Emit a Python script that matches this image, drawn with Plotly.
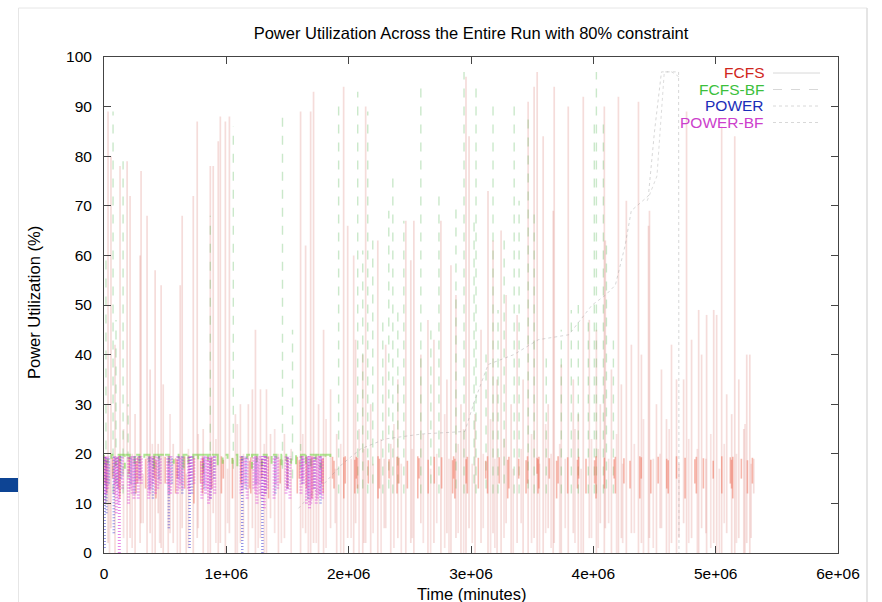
import plotly.graph_objects as go

# ---------------- data (time in thousands of minutes, utilization in %) ----------------
TITLE = "Power Utilization Across the Entire Run with 80% constraint"
X_TITLE = "Time (minutes)"
Y_TITLE = "Power Utilization (%)"
series_names = ["FCFS", "FCFS-BF", "POWER", "POWER-BF"]
x_tick_vals = [0, 1e6, 2e6, 3e6, 4e6, 5e6, 6e6]
x_tick_text = ["0", "1e+06", "2e+06", "3e+06", "4e+06", "5e+06", "6e+06"]
y_tick_vals = [0, 10, 20, 30, 40, 50, 60, 70, 80, 90, 100]

# FCFS spikes: time, peak, trough
fcfs_t = [33, 57, 90, 131, 189, 213, 254, 295, 303, 352, 377, 418, 443, 467, 484, 525, 566, 623, 639, 672,
          730, 762, 811, 869, 893, 934, 951, 992, 1025, 1074, 1115, 1180, 1213, 1238, 1279, 1328, 1361, 1426, 1475, 1607,
          1648, 1689, 1713, 1754, 1795, 1852, 1902, 1959, 1992, 2041, 2057, 2115, 2139, 2180, 2238, 2303, 2344, 2402, 2467, 2508,
          2533, 2590, 2648, 2697, 2754, 2803, 2836, 2877, 2918, 2959, 2984, 3033, 3082, 3139, 3180, 3213, 3246, 3287, 3328, 3377,
          3426, 3467, 3516, 3541, 3590, 3631, 3672, 3680, 3738, 3795, 3836, 3877, 3918, 3967, 4025, 4057, 4090, 4098, 4148, 4205,
          4229, 4270, 4311, 4369, 4393, 4451, 4459, 4516, 4557, 4598, 4639, 4680, 4738, 4762, 4803, 4861, 4885, 4926, 4984, 5008,
          5049, 5090, 5131, 5156, 5189, 5230, 5254, 5279, 5311]
fcfs_peak = [89, 80, 42, 78, 79, 72, 28, 60, 77, 68, 37, 57, 22, 54, 34, 18.5, 22, 54, 68, 16,
             72, 87, 25, 78, 78, 83, 88, 87, 88, 28, 30, 30, 33, 45, 33, 33, 24, 20, 24, 89,
             62, 89, 93, 30, 45, 33, 24, 94, 66, 60, 43, 40, 90, 30, 63, 42, 22, 35, 67, 59,
             67, 40, 47, 43, 67, 35, 58, 52, 30, 96, 84, 28, 45, 73, 63, 35, 65, 52, 30, 48,
             35, 91, 94, 97, 84, 30, 69, 94, 38, 90, 35, 28, 92, 47, 45, 30, 90, 63, 37, 92,
             34, 71, 42, 91, 40, 66, 69, 30, 37, 27, 42, 35, 35, 89, 43, 49, 40, 48, 49, 48,
             86, 32, 28, 84, 35, 25, 40, 40, 19]
fcfs_low = [2, 5, 0, 12, 0, 3, 0, 2, 6, 0, 4, 0, 8, 1, 0, 0, 2, 0, 5, 0,
            0, 3, 0, 0, 8, 0, 2, 0, 4, 0, 2, 0, 5, 0, 3, 0, 7, 0, 3, 0,
            4, 0, 2, 0, 0, 5, 0, 0, 3, 0, 6, 0, 2, 0, 0, 5, 0, 3, 0, 2,
            0, 6, 0, 2, 0, 4, 0, 3, 0, 0, 5, 0, 2, 0, 4, 0, 0, 6, 0, 2,
            0, 0, 3, 0, 0, 5, 0, 2, 0, 0, 4, 0, 0, 3, 0, 6, 0, 5, 0, 0,
            3, 0, 4, 0, 2, 0, 3, 0, 5, 0, 2, 0, 6, 0, 3, 0, 5, 0, 2, 0,
            0, 4, 0, 0, 3, 0, 2, 0, 12]

# FCFS short dips from the working level towards zero: time, bottom, top
fcfs_dip_t = [45, 160, 230, 320, 395, 455, 540, 600, 690, 770,
              850, 915, 1010, 1090, 1140, 1260, 1310, 1395, 1450, 1530,
              1625, 1670, 1735, 1815, 1890, 1935, 2020, 2085, 2125, 2200,
              2265, 2290, 2370, 2430, 2520, 2610, 2670, 2720, 2785, 2820,
              2895, 2940, 3010, 3100, 3160, 3195, 3270, 3345, 3410, 3495,
              3560, 3610, 3655, 3725, 3770, 3850, 3900, 3985, 4040, 4125,
              4190, 4240, 4335, 4410, 4490, 4545, 4620, 4700, 4780, 4850,
              4920, 4960, 5030, 5070, 5170, 5240, 5290]
fcfs_dip_low = [0, 3, 1, 6, 0, 2, 4, 0, 1, 5,
                0, 2, 6, 0, 3, 1, 0, 4, 2, 0,
                5, 0, 2, 1, 6, 0, 3, 0, 2, 4,
                0, 5, 1, 0, 3, 2, 0, 6, 1, 0,
                4, 0, 2, 5, 0, 1, 3, 0, 6, 2,
                0, 4, 1, 0, 5, 2, 0, 3, 1, 6,
                0, 2, 4, 0, 1, 5, 0, 3, 2, 0,
                4, 1, 0, 6, 2, 0, 3]
fcfs_dip_top = [18, 25, 20, 16, 22, 19, 28, 17, 21, 24,
                19, 23, 17, 26, 20, 18, 22, 25, 19, 21,
                24, 18, 20, 27, 17, 22, 19, 25, 21, 18,
                23, 19, 26, 18, 21, 24, 17, 20, 28, 19,
                22, 25, 18, 20, 27, 19, 23, 17, 21, 24,
                18, 26, 20, 22, 19, 25, 17, 23, 21, 19,
                24, 18, 22, 27, 19, 20, 25, 18, 23, 21,
                19, 24, 17, 22, 20, 26, 18]

# FCFS dense band just below the cap: time, trough, top
fcfs_band_t = [8, 22, 70, 118, 130, 205, 262, 275, 340, 410,
               425, 500, 585, 598, 660, 735, 790, 805, 812, 880,
               960, 975, 1050, 1120, 1190, 1200, 1290, 1345, 1440, 1500,
               1580, 1596, 1655, 1700, 1780, 1792, 1868, 1880, 1960, 1972,
               2050, 2062, 2072, 2160, 2240, 2252, 2330, 2395, 2410, 2480,
               2565, 2575, 2650, 2700, 2760, 2850, 2858, 2868, 2960, 2970,
               3060, 3120, 3135, 3230, 3300, 3310, 3390, 3450, 3462, 3540,
               3548, 3555, 3640, 3700, 3712, 3790, 3870, 3880, 3940, 4010,
               4022, 4090, 4170, 4180, 4250, 4300, 4380, 4392, 4470, 4530,
               4600, 4612, 4680, 4750, 4830, 4842, 4900, 4980, 5050, 5120,
               5130, 5140, 5210, 5260, 5300]
fcfs_band_low = [14, 12, 15, 13, 11, 16, 12, 14, 13, 15,
                 11, 14, 12, 15, 13, 10, 14, 12, 16, 13,
                 12, 15, 11, 14, 13, 12, 15, 11, 14, 13,
                 12, 15, 13, 11, 14, 12, 15, 13, 11, 14,
                 12, 15, 13, 14, 11, 13, 15, 12, 14, 13,
                 11, 15, 12, 14, 13, 12, 15, 11, 14, 12,
                 13, 15, 12, 14, 11, 13, 15, 12, 14, 16,
                 12, 13, 15, 11, 14, 12, 13, 15, 12, 14,
                 11, 13, 15, 12, 14, 13, 11, 15, 12, 14,
                 13, 12, 15, 11, 14, 12, 13, 15, 12, 14,
                 13, 11, 15, 12, 14]
fcfs_band_top = [19.4, 18.6, 19.2, 19.5, 18.9, 19.3, 18.5, 19.4, 19.0, 19.5,
                 18.7, 19.4, 19.1, 18.8, 19.5, 19.2, 18.6, 19.4, 19.0, 19.3,
                 19.5, 18.8, 19.2, 19.4, 18.6, 19.3, 19.0, 19.5, 18.9, 19.2,
                 19.4, 18.7, 19.3, 19.5, 18.9, 19.1, 19.4, 18.6, 19.3, 19.5,
                 18.8, 19.4, 19.2, 18.7, 19.5, 19.0, 18.9, 19.4, 19.2, 18.6,
                 19.5, 19.1, 18.8, 19.4, 19.3, 18.7, 19.5, 19.0, 18.9, 19.4,
                 19.2, 18.6, 19.5, 19.3, 18.8, 19.4, 19.0, 18.7, 19.5, 19.2,
                 18.9, 19.4, 19.1, 18.6, 19.5, 19.3, 18.8, 19.4, 19.0, 18.7,
                 19.5, 19.2, 18.9, 19.4, 19.1, 18.6, 19.5, 19.3, 18.8, 19.4,
                 19.0, 18.7, 19.5, 19.2, 18.9, 19.4, 19.1, 18.6, 19.5, 19.3,
                 18.8, 19.4, 19.0, 18.7, 19.2]

# FCFS-BF spikes: time, peak, trough
fcfsbf_t = [16, 74, 98, 156, 197, 869, 1057, 1459, 1541, 1607, 1918, 2074, 2115, 2156, 2197, 2279, 2328, 2361, 2402, 2451,
            2590, 2672, 2738, 2877, 2943, 3025, 3041, 3123, 3180, 3221, 3271, 3353, 3393, 3467, 3516, 3615, 3738, 3820, 3877, 3959,
            4008, 4025, 4082, 4107, 4164]
fcfsbf_peak = [60, 89, 47, 79, 30, 68, 86, 88, 45, 22, 90, 93, 61, 89, 63, 47, 69, 76, 49, 67,
               95, 45, 72, 70, 97, 68, 94, 40, 91, 49, 64, 91, 71, 88, 69, 40, 45, 49, 50, 48,
               88, 97, 87, 63, 44]
fcfsbf_low = [10, 12, 14, 12, 15, 17, 17, 17, 15, 17, 12, 12, 13, 12, 14, 12, 13, 12, 14, 12,
              12, 14, 12, 13, 12, 14, 12, 13, 12, 12, 14, 12, 12, 13, 12, 12, 12, 12, 12, 12,
              12, 12, 12, 13, 12]

# FCFS-BF band at the cap: time, dip
fcfsbf_band_t = [0, 30, 60, 95, 130, 170, 210, 250, 290, 330, 370, 410, 450, 490, 530, 570, 610, 650, 690, 730,
                 770, 810, 850, 890, 930, 970, 1010, 1050, 1090, 1130, 1170, 1210, 1250, 1290, 1330, 1370, 1410, 1450, 1490, 1530,
                 1570, 1610, 1650, 1690, 1730, 1770, 1810, 1850]
fcfsbf_band_low = [17, 18, 19, 17.5, 18, 17, 19, 18, 17.5, 19, 18, 17, 18.5, 19, 17.5, 18, 19, 17, 18, 19,
                   18.5, 17, 18, 19, 17.5, 18, 19, 18, 17, 18.5, 19, 17, 18, 17.5, 19, 18, 19, 17, 18.5, 18,
                   17, 19, 18, 17.5, 18, 17, 18.5, 19]
fcfsbf_band_top = 19.8

# POWER: time, trough (strokes from the cap down)
power_t = [5, 20, 40, 80, 110, 140, 220, 250, 290, 370, 400, 450, 530, 555, 610, 640, 700, 720, 820, 870,
           900, 1130, 1160, 1240, 1295, 1320, 1400, 1500, 1620, 1670, 1720, 1770]
power_low = [1, 8, 14, 4, 13, 15, 14, 12, 15, 13, 11, 15, 5, 14, 15, 12, 1, 12, 13, 11,
             15, 0, 13, 14, 0, 12, 12, 13, 14, 11, 13, 10]
power_top = 19.5

# POWER-BF: time, trough
powerbf_t = [10, 30, 85, 100, 125, 150, 200, 230, 260, 280, 305, 365, 385, 420, 460, 520, 545, 600, 625, 645,
             690, 710, 735, 800, 830, 855, 880, 905, 1120, 1150, 1170, 1225, 1250, 1275, 1310, 1335, 1390, 1420, 1488, 1520,
             1610, 1630, 1655, 1680, 1700, 1735, 1760, 1785,
             15, 92, 115, 215, 245, 295, 375, 400, 440, 530, 615, 700, 815, 845, 870, 1135, 1240, 1260, 1290, 1320,
             1405, 1500, 1620, 1665, 1690, 1715, 1745, 1770]
powerbf_low = [10, 13, 12, 8, 0, 13, 10, 12, 14, 11, 14, 11, 13, 12, 14, 14, 12, 12, 14, 13,
               13, 15, 14, 11, 12, 10, 13, 12, 12, 14, 11, 13, 10, 12, 9, 13, 11, 13, 12, 11,
               12, 14, 10, 9, 11, 10, 12, 11,
               12, 14, 10, 13, 11, 15, 12, 14, 13, 12, 13, 12, 14, 13, 11, 13, 12, 14, 11, 12,
               14, 13, 15, 12, 10, 13, 11, 12]
powerbf_top = 19.5

# slowly rising tail of the power-aware run
tail_t = [1590, 1700, 1800, 1950, 2100, 2300, 2600, 2950, 3020, 3140, 3350, 3550, 3800, 3990, 4100, 4180, 4260, 4310, 4450, 4500,
          4557, 4697, 4700]
tail_v = [9, 12, 14, 18, 21, 23, 24, 24.5, 30, 38, 40, 43, 44, 50, 52, 54, 62, 69, 72, 85,
          97, 97, 0]
tail2_t = [4440, 4520, 4580, 4640, 4700]
tail2_v = [71, 76, 97, 97, 96]

# ---------------- build figure ----------------
K = 1000.0


def strokes(t, lo, hi):
    xs, ys = [], []
    for ti, a, b in zip(t, lo, hi):
        xs += [ti * K, ti * K, None]
        ys += [a, b, None]
    return xs, ys


def capped_line(t, lo, top):
    xs, ys = [], []
    for ti, a in zip(t, lo):
        xs += [ti * K, ti * K, ti * K]
        ys += [top, a, top]
    return xs, ys


fig = go.Figure()

x, y = strokes(fcfs_t, fcfs_low, fcfs_peak)
fig.add_trace(go.Scatter(x=x, y=y, mode="lines", name="FCFS", showlegend=False,
                         line=dict(color="rgba(205,80,70,0.2)", width=1.7)))
x, y = strokes(fcfs_dip_t, fcfs_dip_low, fcfs_dip_top)
fig.add_trace(go.Scatter(x=x, y=y, mode="lines", showlegend=False,
                         line=dict(color="rgba(205,80,70,0.17)", width=1.7)))
x, y = strokes(fcfsbf_t, fcfsbf_low, fcfsbf_peak)
fig.add_trace(go.Scatter(x=x, y=y, mode="lines", name="FCFS-BF", showlegend=False,
                         line=dict(color="rgba(80,180,80,0.3)", width=1.4, dash="dash")))
x, y = strokes(fcfs_band_t, fcfs_band_low, fcfs_band_top)
fig.add_trace(go.Scatter(x=x, y=y, mode="lines", showlegend=False,
                         line=dict(color="rgba(235,85,60,0.42)", width=1.6)))
x, y = capped_line(fcfsbf_band_t, fcfsbf_band_low, fcfsbf_band_top)
fig.add_trace(go.Scatter(x=x, y=y, mode="lines", showlegend=False,
                         line=dict(color="rgba(110,210,60,0.55)", width=2, dash="dash")))
x, y = strokes(power_t, power_low, [power_top] * len(power_t))
fig.add_trace(go.Scatter(x=x, y=y, mode="lines", name="POWER", showlegend=False,
                         line=dict(color="rgba(60,60,210,0.55)", width=2.5, dash="1px,2px")))
x, y = strokes(powerbf_t, powerbf_low, [powerbf_top] * len(powerbf_t))
fig.add_trace(go.Scatter(x=x, y=y, mode="lines", name="POWER-BF", showlegend=False,
                         line=dict(color="rgba(215,50,215,0.6)", width=3, dash="1px,2px")))
fig.add_trace(go.Scatter(x=[v * K for v in tail_t], y=tail_v, mode="lines", showlegend=False,
                         line=dict(color="rgba(140,140,140,0.35)", width=1, dash="dot")))
fig.add_trace(go.Scatter(x=[v * K for v in tail2_t], y=tail2_v, mode="lines", showlegend=False,
                         line=dict(color="rgba(140,140,140,0.3)", width=1, dash="dot")))

font_family = "Liberation Sans, Arial, sans-serif"
axis_common = dict(showline=True, linecolor="#444", linewidth=1, mirror="ticks", ticks="inside",
                   ticklen=7, tickcolor="#444", showgrid=False, zeroline=False,
                   tickfont=dict(family=font_family, size=15.5, color="#000"))
fig.update_layout(
    width=882, height=602,
    margin=dict(l=104, r=44, t=57, b=49),
    paper_bgcolor="white", plot_bgcolor="white",
    title=dict(text=TITLE, x=0.5, xref="paper", y=1 - 33 / 602, yref="container", yanchor="middle",
               font=dict(family=font_family, size=16.5, color="#000")),
    xaxis=dict(range=[0, 6e6], tickvals=x_tick_vals, ticktext=x_tick_text, ticklabelstandoff=6, **axis_common),
    yaxis=dict(range=[0, 100], tickvals=y_tick_vals, ticklabelstandoff=8, **axis_common),
)

# axis titles
fig.add_annotation(text=X_TITLE, xref="paper", yref="paper", x=0.5, y=(553 - 594) / 496,
                   showarrow=False, font=dict(family=font_family, size=16.5, color="#000"), yanchor="middle")
fig.add_annotation(text=Y_TITLE, xref="paper", yref="paper", x=(34 - 104) / 734, y=(553 - 303) / 496, textangle=-90,
                   showarrow=False, font=dict(family=font_family, size=16.5, color="#000"), xanchor="center")

# key (gnuplot style: text right-aligned, sample to the right)
legend_colors = ["#d0261c", "#3cc03c", "#1a2db8", "#cc3fcc"]
legend_dash = ["solid", "dash", "dot", "dot"]
for i, (name, col, dsh) in enumerate(zip(series_names, legend_colors, legend_dash)):
    ypix = 73 + i * 16.5
    yp = (553 - ypix) / 496
    fig.add_annotation(text=name, xref="paper", yref="paper", x=(765 - 104) / 734, y=yp, xanchor="right",
                       yanchor="middle", showarrow=False, borderpad=0,
                       font=dict(family=font_family, size=15.5, color=col))
    fig.add_shape(type="line", xref="paper", yref="paper", x0=(773 - 104) / 734, x1=(820 - 104) / 734,
                  y0=yp, y1=yp, line=dict(color="#d8d8d8", width=1, dash=dsh))

# slide frame remnants around the picture
px = lambda p: (p - 104) / 734
py = lambda p: (553 - p) / 496
fig.add_shape(type="rect", xref="paper", yref="paper", x0=px(0), x1=px(18), y0=py(492), y1=py(478),
              fillcolor="#0d4494", line=dict(width=0))
fig.add_shape(type="line", xref="paper", yref="paper", x0=px(18.5), x1=px(18.5), y0=py(8), y1=py(602),
              line=dict(color="#e6e6e6", width=1))
fig.add_shape(type="line", xref="paper", yref="paper", x0=px(18.5), x1=px(867), y0=py(8), y1=py(8),
              line=dict(color="#e6e6e6", width=1))
fig.add_shape(type="line", xref="paper", yref="paper", x0=px(867), x1=px(867), y0=py(8), y1=py(602),
              line=dict(color="#dcdcdc", width=1.5))

fig.write_html("out.html")
